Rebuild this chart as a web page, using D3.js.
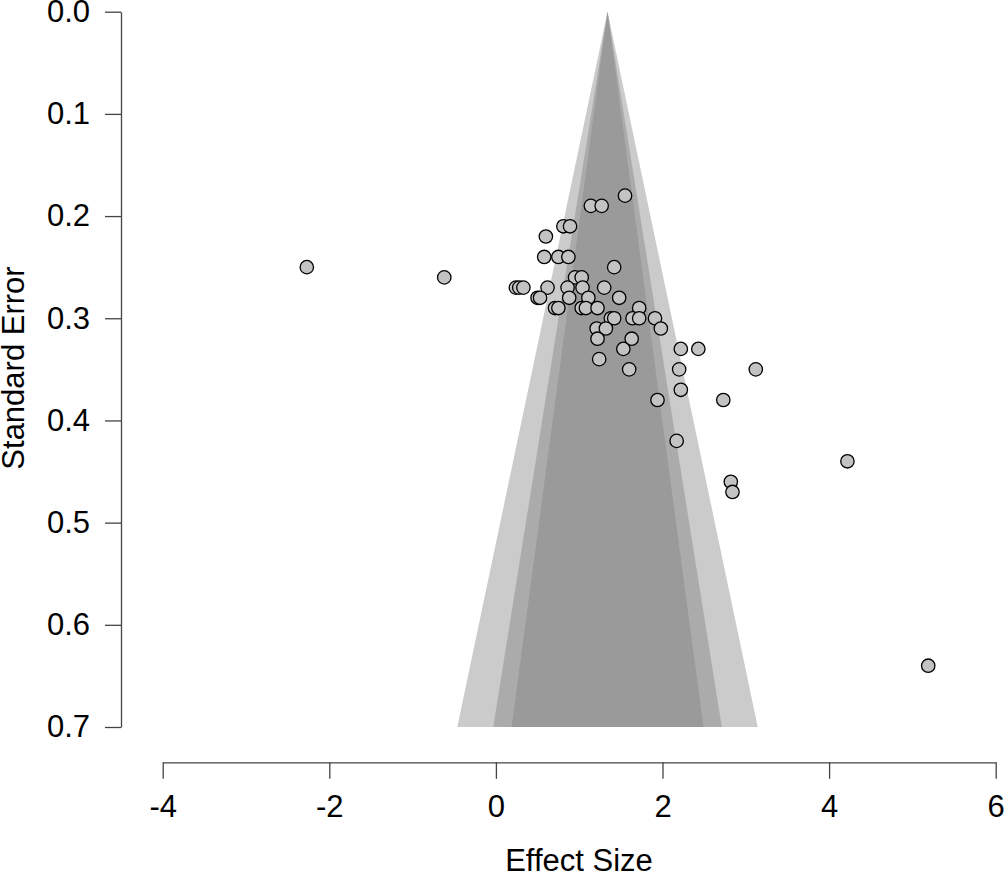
<!DOCTYPE html>
<html>
<head>
<meta charset="utf-8">
<script src="https://cdn.jsdelivr.net/npm/d3@7"></script>
<style>
  body { margin: 0; background: #fff; }
  svg { display: block; }
</style>
</head>
<body>
<svg id="chart"></svg>
<script>
// study estimates
const effectSize = [
    1.55,
    1.14, 1.27,
    0.81, 0.89,
    0.60,
    0.58, 0.75, 0.87,
    -2.27, 1.42,
    -0.62, 0.95, 1.03,
    0.24, 0.28, 0.33, 0.62, 0.86, 1.04, 1.30,
    0.50, 0.53, 0.88, 1.11, 1.48,
    0.71, 0.75, 1.03, 1.08, 1.22, 1.72,
    1.38, 1.42, 1.64, 1.72, 1.91,
    1.21, 1.32, 1.98,
    1.22, 1.63,
    1.53, 2.22, 2.43,
    1.24,
    1.60, 2.20, 3.12,
    2.22,
    1.94, 2.73,
    2.17,
    4.22,
    2.82,
    2.84,
    5.19
];
const standardError = [
    0.18,
    0.19, 0.19,
    0.21, 0.21,
    0.22,
    0.24, 0.24, 0.24,
    0.25, 0.25,
    0.26, 0.26, 0.26,
    0.27, 0.27, 0.27, 0.27, 0.27, 0.27, 0.27,
    0.28, 0.28, 0.28, 0.28, 0.28,
    0.29, 0.29, 0.29, 0.29, 0.29, 0.29,
    0.30, 0.30, 0.30, 0.30, 0.30,
    0.31, 0.31, 0.31,
    0.32, 0.32,
    0.33, 0.33, 0.33,
    0.34,
    0.35, 0.35, 0.35,
    0.37,
    0.38, 0.38,
    0.42,
    0.44,
    0.46,
    0.47,
    0.64
];

// funnel: pooled estimate and z for 99%, 95%, 90% regions
const pooledEffect = 1.34;
const zLevels = [2.576, 1.96, 1.645];
const funnelFill = ["#cbcbcb", "#ababab", "#9a9a9a"];
const seMax = 0.7;

const xTicks = [-4, -2, 0, 2, 4, 6];
const yTicks = [0, 0.1, 0.2, 0.3, 0.4, 0.5, 0.6, 0.7];

const width = 1004, height = 875;
const font = "Liberation Sans, Arial, sans-serif";
const fontSize = 31;

const svg = d3.select("#chart")
    .attr("width", width)
    .attr("height", height);

const x = d3.scaleLinear().domain([-4, 6]).range([162.7, 995.7]);
const y = d3.scaleLinear().domain([0, 0.7]).range([11.7, 727]);

// funnel triangles, widest first
svg.append("g").selectAll("polygon")
    .data(zLevels)
    .join("polygon")
    .attr("points", z => [
        [x(pooledEffect), y(0)],
        [x(pooledEffect - z * seMax), y(seMax)],
        [x(pooledEffect + z * seMax), y(seMax)]
    ].map(p => p.join(",")).join(" "))
    .attr("fill", (d, i) => funnelFill[i]);

// axes
const xAxis = svg.append("g")
    .attr("transform", "translate(0,762.3)")
    .call(d3.axisBottom(x).tickValues(xTicks).tickSize(16.5).tickSizeOuter(0)
        .tickPadding(16).tickFormat(d => String(d)));

const yAxis = svg.append("g")
    .attr("transform", "translate(121,0)")
    .call(d3.axisLeft(y).tickValues(yTicks).tickSize(16).tickSizeOuter(0)
        .tickPadding(15).tickFormat(d => d.toFixed(1)));

[xAxis, yAxis].forEach(g => {
    g.selectAll("path, line").attr("stroke", "#444").attr("stroke-width", 1.3);
    g.selectAll("text")
        .attr("font-family", font)
        .attr("font-size", fontSize)
        .attr("fill", "#000");
});

// points
const studies = effectSize.map((d, i) => ({ es: d, se: standardError[i] }));

svg.append("g").selectAll("circle")
    .data(studies)
    .join("circle")
    .attr("cx", d => x(d.es))
    .attr("cy", d => y(d.se))
    .attr("r", 6.7)
    .attr("fill", "#c3c3c3")
    .attr("stroke", "#000")
    .attr("stroke-width", 1.3);

// axis titles
svg.append("text")
    .attr("x", 579)
    .attr("y", 871)
    .attr("text-anchor", "middle")
    .attr("font-family", font)
    .attr("font-size", fontSize)
    .text("Effect Size");

svg.append("text")
    .attr("transform", "translate(24,368) rotate(-90)")
    .attr("text-anchor", "middle")
    .attr("font-family", font)
    .attr("font-size", fontSize)
    .text("Standard Error");
</script>
</body>
</html>
